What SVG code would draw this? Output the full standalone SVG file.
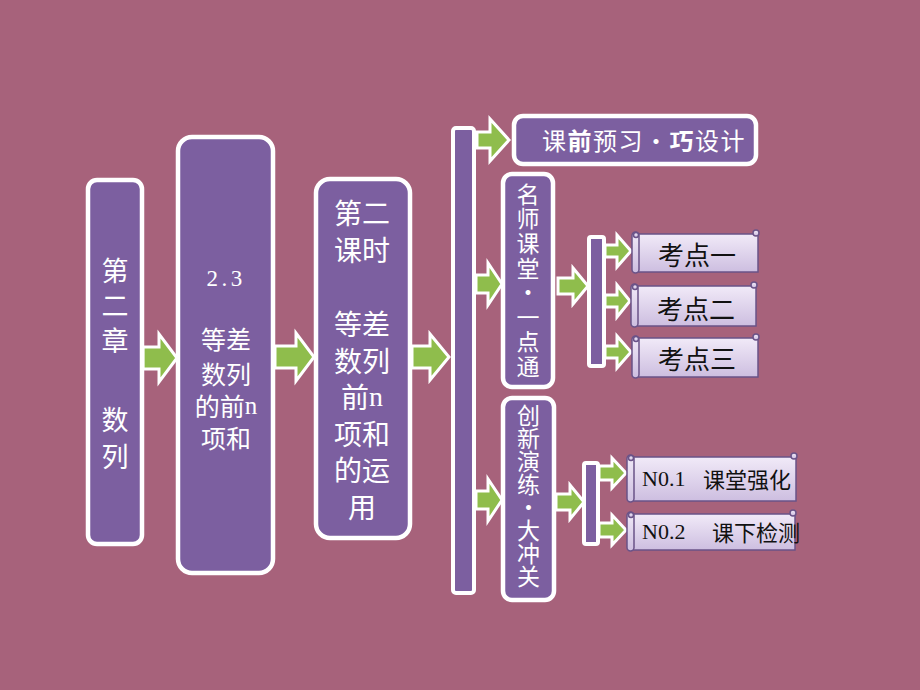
<svg xmlns="http://www.w3.org/2000/svg" width="920" height="690" viewBox="0 0 920 690">
<defs>
<linearGradient id="scrollG" x1="0" y1="0" x2="0" y2="1">
<stop offset="0" stop-color="#F1EAF8"/>
<stop offset="1" stop-color="#CDBEE0"/>
</linearGradient>
<style>
.box{fill:#7C5FA0;stroke:#FFFFFF;stroke-width:4.5}
.bar{fill:#7C5FA0;stroke:#FFFFFF;stroke-width:4}
.arr{fill:#8FBD4C;stroke:#FFFFFF;stroke-width:3;stroke-linejoin:miter}
.sc{fill:url(#scrollG);stroke:#6A5388;stroke-width:1.5}
.wt{fill:#FFFFFF;font-family:"Noto Sans CJK SC","Noto Sans",sans-serif;text-anchor:middle;dominant-baseline:central}
.wv{fill:#FFFFFF;font-family:"Noto Sans CJK SC","Noto Sans",sans-serif;writing-mode:vertical-rl;text-orientation:upright;text-anchor:start}
.bt{fill:#111111;font-family:"Noto Sans CJK SC","Noto Sans",sans-serif;dominant-baseline:central}
.sf{font-family:"Liberation Serif","Noto Sans CJK SC",serif}
</style>
</defs>
<rect x="0" y="0" width="920" height="690" fill="#A7627B"/>

<g id="connectors">
<path class="arr" d="M143,347 L159,347 L159,334 L177,358 L159,382 L159,369 L143,369 Z"/>
<path class="arr" d="M275,346 L296,346 L296,333 L314,357 L296,381 L296,368 L275,368 Z"/>
<path class="arr" d="M412,346 L430,346 L430,334 L449,357 L430,380 L430,368 L412,368 Z"/>
<path class="arr" d="M477,132 L490,132 L490,119 L509,140 L490,161 L490,148 L477,148 Z"/>
<path class="arr" d="M476,275 L488,275 L488,263 L502,284 L488,305 L488,293 L476,293 Z"/>
<path class="arr" d="M558,278 L573,278 L573,268 L588,286 L573,304 L573,294 L558,294 Z"/>
<path class="arr" d="M605,245 L617,245 L617,235 L631,251 L617,267 L617,257 L605,257 Z"/>
<path class="arr" d="M605,295 L617,295 L617,285 L630,301 L617,317 L617,307 L605,307 Z"/>
<path class="arr" d="M605,346 L617,346 L617,336 L631,352 L617,368 L617,358 L605,358 Z"/>
<path class="arr" d="M476,491 L488,491 L488,479 L502,500 L488,521 L488,509 L476,509 Z"/>
<path class="arr" d="M556,494 L570,494 L570,485 L584,502 L570,519 L570,510 L556,510 Z"/>
<path class="arr" d="M599,466 L612,466 L612,458 L626,473 L612,488 L612,480 L599,480 Z"/>
<path class="arr" d="M599,523 L612,523 L612,515 L626,530 L612,545 L612,537 L599,537 Z"/>
</g>

<g id="n_chapter">
<rect class="box" x="88" y="180" width="54" height="364" rx="9"/>
<text class="wv" font-size="27" x="115" y="257.5" letter-spacing="8">第二章</text>
<text class="wv" font-size="27" x="115" y="406.5" letter-spacing="10">数列</text>
</g>

<g id="n_section">
<rect class="box" x="178" y="137" width="95" height="436" rx="14"/>
<text class="wt sf" font-size="23" x="226" y="278" letter-spacing="3.5">2.3</text>
<text class="wt" font-size="25">
<tspan x="226" y="338">等差</tspan><tspan x="226" y="373">数列</tspan><tspan x="226" y="405">的前<tspan class="sf">n</tspan></tspan><tspan x="226" y="437">项和</tspan>
</text>
</g>

<g id="n_lesson">
<rect class="box" x="316" y="179" width="94" height="359" rx="14"/>
<text class="wt" font-size="28">
<tspan x="362" y="212">第二</tspan><tspan x="362" y="248.5">课时</tspan><tspan x="362" y="323">等差</tspan><tspan x="362" y="359.5">数列</tspan><tspan x="362" y="396">前<tspan class="sf">n</tspan></tspan><tspan x="362" y="432.5">项和</tspan><tspan x="362" y="469">的运</tspan><tspan x="362" y="505.5">用</tspan>
</text>
</g>

<g id="n_bar">
<rect class="bar" x="453" y="128" width="21" height="465" rx="3"/>
</g>

<g id="n_pre">
<rect class="box" x="514" y="116" width="242" height="48" rx="9"/>
<text class="wt" font-size="24" x="644" y="139" letter-spacing="1.5">课<tspan font-weight="bold">前</tspan>预习・<tspan font-weight="bold">巧</tspan>设计</text>
</g>

<g id="n_class">
<rect class="box" x="503" y="174" width="50" height="213" rx="9"/>
<text class="wv" font-size="23" x="528" y="182.5" letter-spacing="1.6">名师课堂・一点通</text>
</g>

<g id="n_bar1">
<rect class="bar" x="589" y="237" width="15" height="129" rx="2"/>
</g>

<g id="n_k1">
<rect class="sc" x="636" y="234" width="122" height="38"/>
<rect class="sc" x="632" y="232" width="7" height="41" rx="3.5"/>
<circle class="sc" cx="636" cy="235" r="2.5"/>
<circle class="sc" cx="756" cy="233" r="3"/>
<text class="bt" font-size="26" x="697" y="253" text-anchor="middle">考点一</text>
</g>

<g id="n_k2">
<rect class="sc" x="635" y="286" width="121" height="40"/>
<rect class="sc" x="631" y="284" width="7" height="43" rx="3.5"/>
<circle class="sc" cx="635" cy="287" r="2.5"/>
<circle class="sc" cx="754" cy="285" r="3"/>
<text class="bt" font-size="26" x="696" y="307" text-anchor="middle">考点二</text>
</g>

<g id="n_k3">
<rect class="sc" x="636" y="338" width="122" height="39"/>
<rect class="sc" x="632" y="336" width="7" height="42" rx="3.5"/>
<circle class="sc" cx="636" cy="339" r="2.5"/>
<circle class="sc" cx="756" cy="337" r="3"/>
<text class="bt" font-size="26" x="697" y="357" text-anchor="middle">考点三</text>
</g>

<g id="n_practice">
<rect class="box" x="503" y="398" width="51" height="202" rx="9"/>
<text class="wv" font-size="23" x="528.5" y="403.5" letter-spacing="0.1">创新演练・大冲关</text>
</g>

<g id="n_bar2">
<rect class="bar" x="584" y="463" width="14" height="81" rx="2"/>
</g>

<g id="n_no1">
<rect class="sc" x="631" y="457" width="165" height="44"/>
<rect class="sc" x="627" y="455" width="7" height="47" rx="3.5"/>
<circle class="sc" cx="631" cy="458" r="2.5"/>
<circle class="sc" cx="794" cy="456" r="3"/>
<text class="bt sf" font-size="22" x="642" y="478">N0.1</text>
<text class="bt" font-size="22" x="703" y="478">课堂强化</text>
</g>

<g id="n_no2">
<rect class="sc" x="631" y="514" width="164" height="36"/>
<rect class="sc" x="627" y="512" width="7" height="39" rx="3.5"/>
<circle class="sc" cx="631" cy="515" r="2.5"/>
<circle class="sc" cx="793" cy="513" r="3"/>
<text class="bt sf" font-size="22" x="642" y="531">N0.2</text>
<text class="bt" font-size="22" x="712" y="531">课下检测</text>
</g>
</svg>
